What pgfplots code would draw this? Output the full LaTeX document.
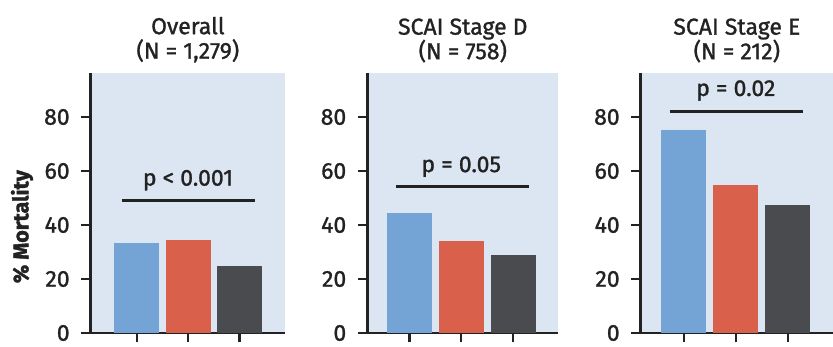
\documentclass[border=0pt]{standalone}
\usepackage{pgfplots}
\pgfplotsset{compat=1.18}
\usepackage{fontspec}
\setmainfont{Fira Sans}[FakeBold=1.6]
\newfontfamily\medfont{Fira Sans}[FakeBold=1.2]
\definecolor{bgblue}{RGB}{220,230,243}
\definecolor{barblue}{RGB}{116,163,214}
\definecolor{barred}{RGB}{217,96,75}
\definecolor{bardark}{RGB}{73,75,78}
\definecolor{txt}{RGB}{34,34,34}
\newcommand{\bigf}{\medfont\fontsize{23}{24.5}\selectfont}
\pgfplotsset{
  panel/.style={
    scale only axis,
    height=260pt,
    ymin=0, ymax=96.3,
    axis lines*=left,
    axis line style={line width=2.8pt, txt},
    axis background/.style={fill=bgblue},
    ytick={0,20,40,60,80},
    xtick={0,1,2},
    xticklabels={},
    tick align=outside,
    major tick length=9.5pt,
    tick style={line width=2.4pt, txt},
    ybar, bar width=45pt, bar shift=0pt,
    /pgf/number format/assume math mode=true,
    tick label style={font=\bigf, color=txt},
    yticklabel style={xshift=-8pt},
    title style={font=\bigf, color=txt, align=center, yshift=1pt},
    clip=false,
  },
}
\begin{document}
\begin{tikzpicture}
\path[use as bounding box] (0pt,0pt) rectangle (833pt,347pt);
% Panel 1
\begin{axis}[panel, at={(90.7pt,14pt)}, anchor=south west, width=194.3pt,
  xmin=-0.897, xmax=2.89, title={Overall\\(N = 1,279)}]
\addplot[fill=barblue, draw=none] coordinates {(0,33.4)};
\addplot[fill=barred, draw=none] coordinates {(1,34.4)};
\addplot[fill=bardark, draw=none] coordinates {(2,24.8)};
\draw[line width=2.8pt, txt] (axis cs:-0.28,49) -- (axis cs:2.30,49);
\node[anchor=base, font=\bigf, txt] at (axis cs:1,54.6) {p < 0.001};
\end{axis}
% Panel 2
\begin{axis}[panel, at={(367.3pt,14pt)}, anchor=south west, width=191pt,
  xmin=-0.81, xmax=2.87, title={SCAI Stage D\\(N = 758)}]
\addplot[fill=barblue, draw=none] coordinates {(0,44.3)};
\addplot[fill=barred, draw=none] coordinates {(1,34.2)};
\addplot[fill=bardark, draw=none] coordinates {(2,29.0)};
\draw[line width=2.8pt, txt] (axis cs:-0.26,54.2) -- (axis cs:2.30,54.2);
\node[anchor=base, font=\bigf, txt] at (axis cs:1,59.6) {p = 0.05};
\end{axis}
% Panel 3
\begin{axis}[panel, at={(640.7pt,14pt)}, anchor=south west, width=192.3pt,
  xmin=-0.83, xmax=2.87, title={SCAI Stage E\\(N = 212)}]
\addplot[fill=barblue, draw=none] coordinates {(0,75.2)};
\addplot[fill=barred, draw=none] coordinates {(1,54.8)};
\addplot[fill=bardark, draw=none] coordinates {(2,47.4)};
\draw[line width=2.8pt, txt] (axis cs:-0.26,82.1) -- (axis cs:2.30,82.1);
\node[anchor=base, font=\bigf, txt] at (axis cs:1,87.8) {p = 0.02};
\end{axis}
\node[rotate=90, font=\fontsize{21.5}{24}\selectfont\bfseries, txt] at (22pt,120.3pt) {\% Mortality};
\end{tikzpicture}
\end{document}
